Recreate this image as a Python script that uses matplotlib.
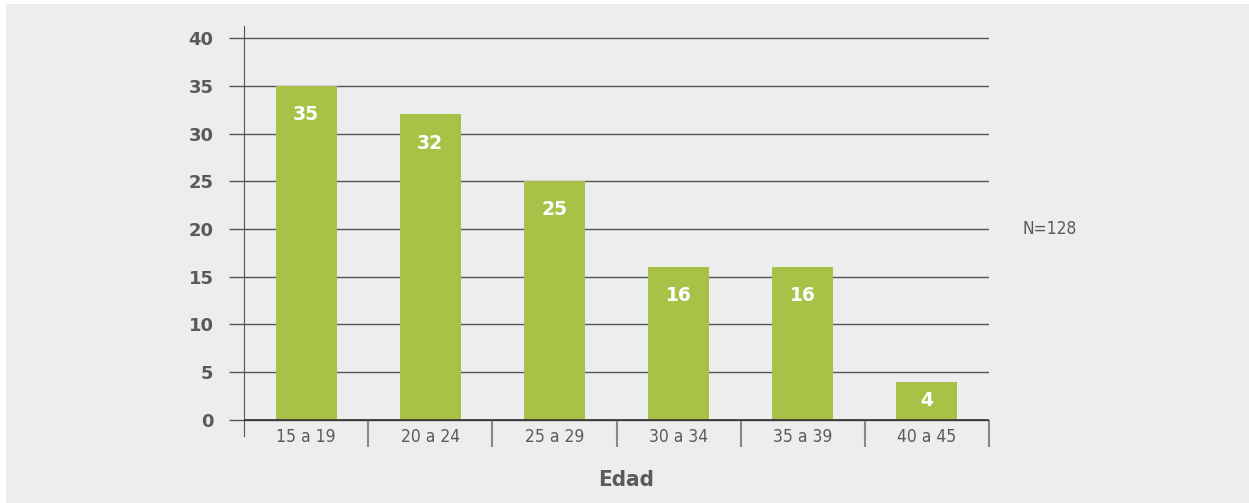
import matplotlib.pyplot as plt
from matplotlib.patches import Rectangle
import numpy as np

# datos
categorias = ['15 a 19', '20 a 24', '25 a 29', '30 a 34', '35 a 39', '40 a 45']
valores = [35, 32, 25, 16, 16, 4]
yticks = [0, 5, 10, 15, 20, 25, 30, 35, 40]
nota = 'N=128'
titulo_x = 'Edad'

W, H = 1249, 503
fondo = '#ededed'
verde = '#a8c247'
gris = '#5a5a5a'
linea = '#555555'

fig = plt.figure(figsize=(W / 100, H / 100), dpi=100, facecolor='white')
fig.patches.append(Rectangle((6 / W, 0), 1, 1 - 4 / H, transform=fig.transFigure,
                             facecolor=fondo, edgecolor='none', zorder=-1))

# ejes: 244..989 px horizontal, 26..436 px vertical
ax = fig.add_axes([244 / W, 1 - 436 / H, (989 - 244) / W, (436 - 26) / H])
ax.patch.set_alpha(0)

x = np.arange(len(categorias))
ax.bar(x, valores, width=0.49, color=verde, zorder=2)
ax.set_xlim(-0.5, len(categorias) - 0.5)
ax.set_ylim(-1.68, 41.26)

for s in ['top', 'right', 'bottom']:
    ax.spines[s].set_visible(False)
ax.spines['left'].set_color(linea)

ax.set_yticks(yticks)
ax.set_yticklabels([str(t) for t in yticks], fontsize=13, fontweight='bold',
                   color=gris)
ax.tick_params(axis='y', length=11, width=1, color=linea, pad=11)
ax.yaxis.grid(True, color=linea, linewidth=1, zorder=1)
ax.set_axisbelow(True)
ax.axhline(0, color='#333333', linewidth=1.2, zorder=3)

# separadores de categoria y etiquetas
ax.set_xticks([])
ax.vlines(x + 0.5, -2.83, 0, color='#888888', linewidth=1.5, clip_on=False)
for xi, cat in zip(x, categorias):
    ax.text(xi, -1.75, cat, ha='center', va='center', fontsize=12.5,
            color=gris, fontstretch='condensed')

# valores dentro de las barras
for xi, v in zip(x, valores):
    ax.text(xi, max(v - 3.0, v / 2), str(v), ha='center', va='center',
            fontsize=13.5, fontweight='bold', color='white', zorder=4)

fig.text(626 / W, 1 - 480 / H, titulo_x, ha='center', va='center', fontsize=16,
         fontweight='bold', color=gris, fontstretch='condensed')
fig.text(1022 / W, 1 - 229 / H, nota, ha='left', va='center', fontsize=12.5,
         color=gris, fontstretch='condensed')

fig.savefig('out.png', dpi=100, facecolor='white')
